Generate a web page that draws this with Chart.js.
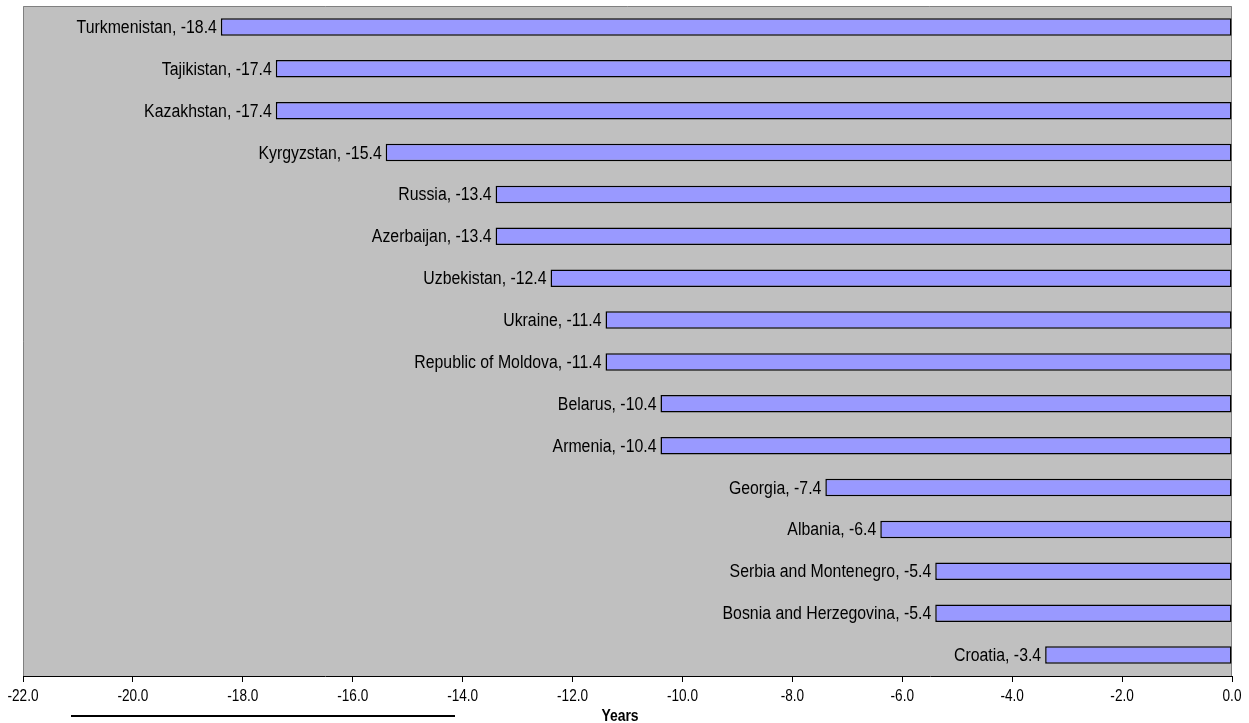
<!DOCTYPE html>
<html>
<head>
<meta charset="utf-8">
<script src="https://cdn.jsdelivr.net/npm/chart.js@4.4.0/dist/chart.umd.min.js"></script>
<style>
  html, body { margin: 0; padding: 0; background: #fff; }
  #wrap { width: 1249px; height: 723px; }
</style>
</head>
<body>
<div id="wrap"><canvas id="gapChart" width="1249" height="723"></canvas></div>
<script>
// Countries, top to bottom
const countries = [
  "Turkmenistan", "Tajikistan", "Kazakhstan", "Kyrgyzstan", "Russia",
  "Azerbaijan", "Uzbekistan", "Ukraine", "Republic of Moldova", "Belarus",
  "Armenia", "Georgia", "Albania", "Serbia and Montenegro",
  "Bosnia and Herzegovina", "Croatia"
];
// Gap in years
const gapYears = [
  -18.4, -17.4, -17.4, -15.4, -13.4,
  -13.4, -12.4, -11.4, -11.4, -10.4,
  -10.4, -7.4, -6.4, -5.4,
  -5.4, -3.4
];
const xMin = -22;
const xMax = 0;
const xStep = 2;
const axisTitle = "Years";

const FAMILY = '"Liberation Sans", Arial, sans-serif';

// narrow-looking text: normal face squeezed horizontally
function squeezedText(ctx, txt, x, y, font, squeeze, align) {
  ctx.save();
  ctx.font = font;
  ctx.textAlign = align;
  ctx.textBaseline = "middle";
  ctx.translate(x, y);
  ctx.scale(squeeze, 1);
  ctx.fillText(txt, 0, 0);
  ctx.restore();
}

// gray plot area with thin frame
const plotFrame = {
  id: "plotFrame",
  beforeDatasetsDraw(chart) {
    const { ctx, chartArea: a } = chart;
    ctx.save();
    ctx.fillStyle = "#C0C0C0";
    ctx.fillRect(a.left, a.top, a.right - a.left, a.bottom - a.top);
    ctx.strokeStyle = "#808080";
    ctx.lineWidth = 1;
    ctx.beginPath();
    ctx.moveTo(a.left + 0.5, a.bottom);
    ctx.lineTo(a.left + 0.5, a.top + 0.5);
    ctx.lineTo(a.right - 0.5, a.top + 0.5);
    ctx.lineTo(a.right - 0.5, a.bottom);
    ctx.stroke();
    ctx.restore();
  }
};

// "Name, value" text just left of each bar end
const barNames = {
  id: "barNames",
  afterDatasetsDraw(chart) {
    const { ctx } = chart;
    const meta = chart.getDatasetMeta(0);
    ctx.fillStyle = "#000";
    meta.data.forEach((bar, i) => {
      const txt = countries[i] + ", " + gapYears[i].toFixed(1);
      squeezedText(ctx, txt, bar.x - 4, bar.y + 1, "18px " + FAMILY, 0.88, "right");
    });
  }
};

// x tick labels, axis title and the short rule under the left ticks
const footer = {
  id: "footer",
  afterDraw(chart) {
    const { ctx } = chart;
    const xs = chart.scales.x;
    ctx.fillStyle = "#000";
    xs.ticks.forEach((t) => {
      const px = xs.getPixelForValue(t.value);
      squeezedText(ctx, t.value.toFixed(1), px, 697, "16px " + FAMILY, 0.85, "center");
    });
    squeezedText(ctx, axisTitle, 620, 716, "bold 17px " + FAMILY, 0.82, "center");
    ctx.save();
    ctx.strokeStyle = "#000";
    ctx.lineWidth = 2;
    ctx.beginPath();
    ctx.moveTo(71, 716);
    ctx.lineTo(455, 716);
    ctx.stroke();
    ctx.restore();
  }
};

new Chart(document.getElementById("gapChart").getContext("2d"), {
  type: "bar",
  data: {
    labels: countries,
    datasets: [
      {
        data: gapYears,
        backgroundColor: "#9999FF",
        borderColor: "#000000",
        borderWidth: 1.5,
        borderSkipped: false,
        barPercentage: 0.42,
        categoryPercentage: 1,
      },
    ],
  },
  options: {
    indexAxis: "y",
    responsive: false,
    animation: false,
    devicePixelRatio: 1,
    layout: { padding: { left: 23, right: 17, top: 6, bottom: 0 } },
    plugins: {
      legend: { display: false },
      tooltip: { enabled: false },
    },
    scales: {
      x: {
        min: xMin,
        max: xMax,
        afterFit: (scale) => { scale.height = 47; },
        ticks: {
          stepSize: xStep,
          autoSkip: false,
          display: false,
        },
        grid: {
          drawOnChartArea: false,
          drawTicks: true,
          tickLength: 6,
          color: "#000",
        },
        border: { display: true, color: "#000", width: 1 },
      },
      y: {
        display: false,
      },
    },
  },
  plugins: [plotFrame, barNames, footer],
});
</script>
</body>
</html>
